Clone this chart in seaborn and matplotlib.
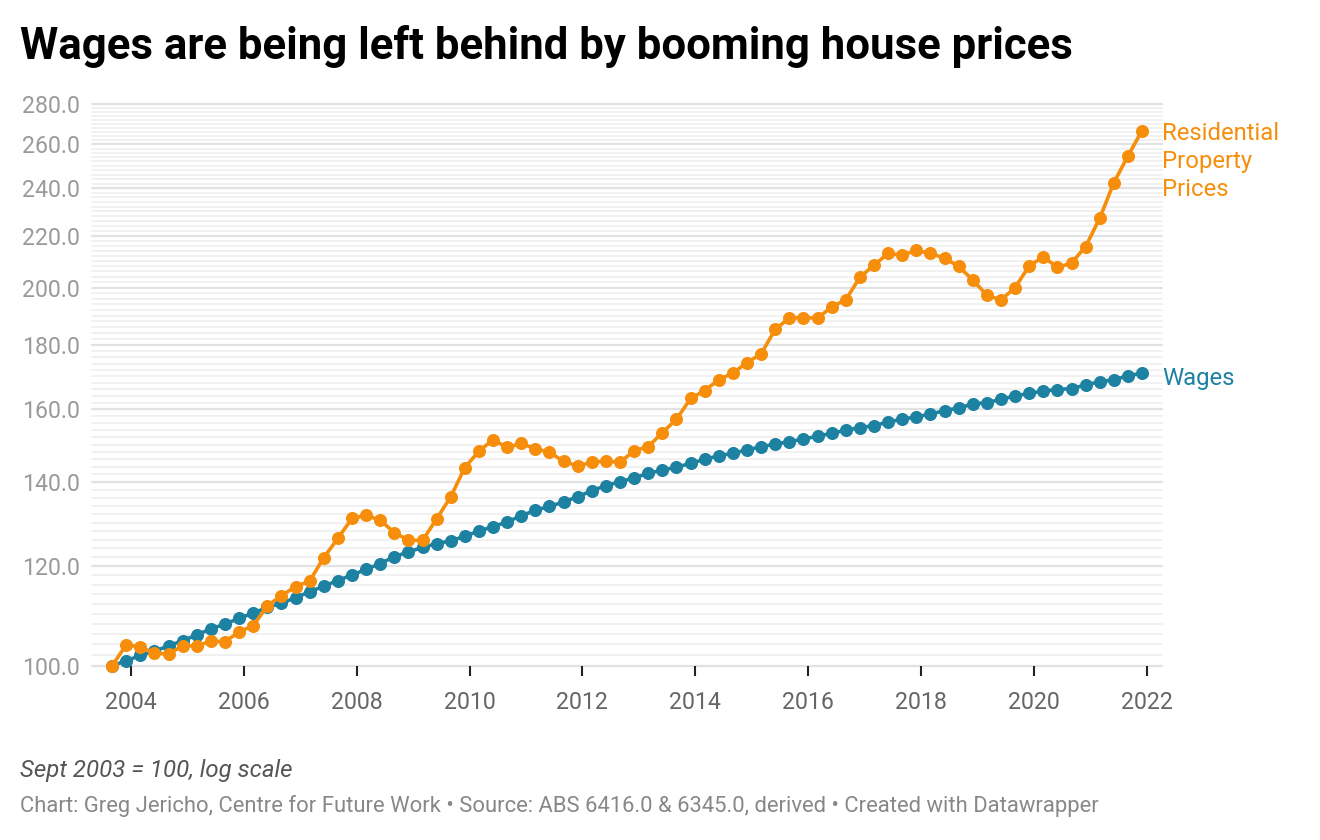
import numpy as np
import pandas as pd
import matplotlib
matplotlib.use("Agg")
import matplotlib.pyplot as plt
import seaborn as sns

# ---- data (Sept 2003 = 100, quarterly) ----
start_quarter = "2003-09-01"
n_quarters = 74
wages = [100.0, 100.9, 101.9, 102.7, 103.7, 104.7, 105.8, 107.0, 107.9, 109.1,
         110.1, 111.3, 112.1, 113.3, 114.5, 115.7, 116.9, 118.1, 119.3, 120.6,
         122.1, 123.2, 124.2, 125.1, 125.7, 126.8, 128.0, 129.0, 130.2, 131.6,
         133.0, 133.9, 135.0, 136.3, 137.8, 139.1, 140.1, 141.1, 142.3, 143.1,
         143.9, 144.9, 146.0, 146.9, 147.6, 148.5, 149.4, 150.1, 150.8, 151.5,
         152.3, 153.1, 154.0, 154.7, 155.3, 156.3, 157.1, 157.8, 158.6, 159.6,
         160.4, 161.5, 162.0, 162.9, 164.0, 164.7, 165.5, 165.9, 166.2, 167.3,
         168.3, 168.9, 170.1, 171.0]
property_prices = [100.0, 103.9, 103.5, 102.3, 102.2, 103.7, 103.7, 104.6, 104.5, 106.4,
                   107.6, 111.6, 113.7, 115.6, 116.8, 121.9, 126.3, 131.0, 131.7, 130.6,
                   127.6, 125.9, 125.8, 130.9, 136.3, 143.8, 148.2, 151.3, 149.2, 150.3,
                   148.8, 147.9, 145.4, 144.2, 145.2, 145.5, 145.2, 148.3, 149.4, 153.3,
                   157.1, 163.2, 165.6, 168.9, 171.0, 174.3, 177.1, 185.3, 189.1, 189.3,
                   189.1, 193.0, 195.6, 203.8, 208.4, 212.9, 212.2, 214.1, 212.9, 211.1,
                   207.9, 202.8, 197.2, 195.5, 200.0, 208.1, 211.6, 207.5, 209.2, 215.6,
                   227.1, 242.4, 254.6, 266.7]
series_names = ["Residential\nProperty\nPrices", "Wages"]
y_ticks = [100, 120, 140, 160, 180, 200, 220, 240, 260, 280]
x_ticks = [2004, 2006, 2008, 2010, 2012, 2014, 2016, 2018, 2020, 2022]

colors = {"Residential\nProperty\nPrices": "#F68E0B", "Wages": "#1D81A2"}

dates = pd.date_range(start=start_quarter, periods=n_quarters, freq="3MS")
xdec = dates.year + (dates.month - 1) / 12.0

df = pd.concat([
    pd.DataFrame({"x": xdec, "value": property_prices, "series": series_names[0]}),
    pd.DataFrame({"x": xdec, "value": wages, "series": series_names[1]}),
])

sns.set_theme(style="white")
plt.rcParams["font.family"] = ["Roboto", "DejaVu Sans"]

W, H = 1320, 840
fig = plt.figure(figsize=(W / 100, H / 100), dpi=100)
ax = fig.add_axes([92 / W, 1 - 665.7 / H, (1162 - 92) / W, (665.7 - 104) / H])

ax.set_yscale("log")
ax.set_ylim(100, 280)
ax.set_xlim(2003.31, 2022.27)

# gridlines: minor every 2, major every 20
for v in range(100, 281, 2):
    if v % 20 == 0:
        ax.axhline(v, color="#e2e2e2", lw=1.6, zorder=0)
    else:
        ax.axhline(v, color="#f1f1f1", lw=1.4, zorder=0)

sns.lineplot(data=df, x="x", y="value", hue="series", palette=colors,
             hue_order=series_names[::-1], marker="o", markersize=9.4,
             markeredgewidth=0, linewidth=2.6, legend=False, ax=ax,
             clip_on=False, zorder=3)
for ln in ax.lines:
    ln.set_clip_on(False)

for s in ax.spines.values():
    s.set_visible(False)

ax.set_yticks(y_ticks)
ax.set_yticklabels([f"{v:.1f}" for v in y_ticks])
ax.yaxis.set_minor_locator(matplotlib.ticker.NullLocator())
ax.tick_params(axis="y", length=0, pad=9, labelsize=16.7, labelcolor="#9a9a9a")

ax.set_xticks(x_ticks)
ax.set_xticklabels([str(v) for v in x_ticks])
ax.tick_params(axis="x", bottom=True, length=7, width=1.5, color="#222222",
               pad=11, labelsize=16.7, labelcolor="#666666")
ax.set_xlabel("")
ax.set_ylabel("")

# direct labels at the line ends
ax.annotate(series_names[0], xy=(xdec[-1], property_prices[-1]),
            xytext=(20, 9), textcoords="offset pixels", va="top", ha="left",
            fontsize=17.2, color=colors[series_names[0]], linespacing=1.28)
ax.annotate(series_names[1], xy=(xdec[-1], wages[-1]),
            xytext=(20, -5), textcoords="offset pixels", va="center", ha="left",
            fontsize=17.2, color=colors[series_names[1]])

fig.text(20 / W, 1 - 46 / H, "Wages are being left behind by booming house prices",
         fontsize=31.5, fontweight="bold", color="#000000", va="center", ha="left")
fig.text(20 / W, 1 - 770 / H, "Sept 2003 = 100, log scale", fontsize=17.3,
         style="italic", color="#555555", va="center", ha="left")
fig.text(20 / W, 1 - 806 / H,
         "Chart: Greg Jericho, Centre for Future Work • Source: ABS 6416.0 & 6345.0, derived • Created with Datawrapper",
         fontsize=15.8, color="#888888", va="center", ha="left")

fig.savefig("out.png", dpi=100, facecolor="white")
